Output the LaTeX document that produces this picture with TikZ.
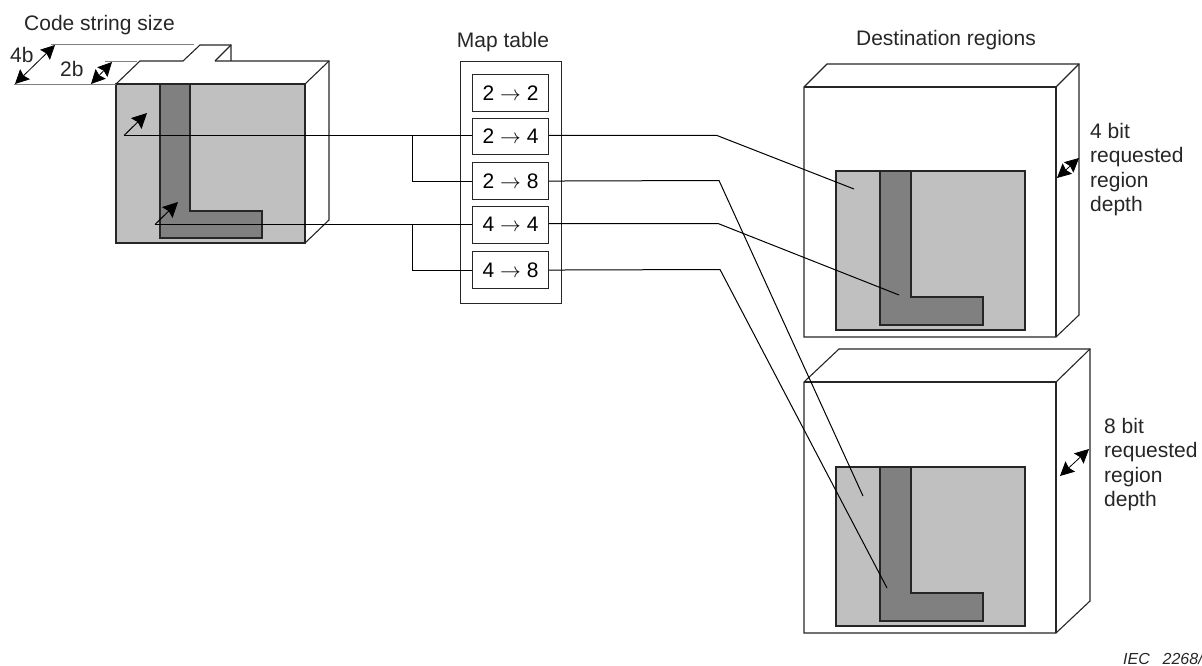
\documentclass[tikz,border=0pt]{standalone}
\usepackage{fontspec}
\setmainfont{Liberation Sans}
\usetikzlibrary{arrows.meta}
\definecolor{inkc}{HTML}{262626}
\definecolor{lightg}{HTML}{C0C0C0}
\definecolor{darkg}{HTML}{808080}
\tikzset{
  ln/.style={draw=inkc,line width=1.1pt,line join=miter},
  link/.style={draw=black,line width=1pt},
  dim/.style={draw=black,line width=0.8pt,{Stealth[length=14pt,width=14pt,inset=2pt]}-{Stealth[length=14pt,width=14pt,inset=2pt]}},
  arr/.style={draw=black,line width=1pt,-{Stealth[length=15pt,width=15pt,inset=2pt]}},
  region/.style={ln,fill=lightg},
  shapeL/.style={ln,fill=darkg},
  mapbox/.style={ln,fill=white,minimum width=76pt,inner sep=0pt,anchor=north west,font=\fontsize{21}{24}\selectfont},
  label/.style={text=inkc,inner sep=0pt,font=\fontsize{21}{24}\selectfont},
  sidelabel/.style={label,align=left,anchor=north west,font=\fontsize{21}{24.4}\selectfont}
}
\begin{document}
\begin{tikzpicture}[x=1pt,y=-1pt]
\useasboundingbox (0,0) rectangle (1202,666);
% left cube
\draw[ln] (116,84) -- (140,61) -- (183,61) -- (200,45) -- (231,45) -- (231,61);
\draw[ln] (215,61) -- (231,45);
\draw[ln] (215,61) -- (329,61) -- (329,220) -- (305,243);
\draw[ln] (305,84) -- (329,61);
\draw[region] (116,84) rectangle (305,243);
\draw[shapeL] (160,84) -- (190,84) -- (190,211) -- (262,211) -- (262,238) -- (160,238) -- cycle;
% dimension guide lines
\draw[line width=1pt,draw=gray] (14,84.5) -- (116,84.5);
\draw[line width=1pt,draw=gray] (51,45) -- (194,45);
\draw[line width=1pt,draw=gray] (105,62) -- (137,62);
\coordinate (d4a) at (15,84); \coordinate (d4b) at (55,45);
\coordinate (d2a) at (91,84); \coordinate (d2b) at (112,62);
\draw[dim] (d4a) -- (d4b);
\draw[dim] (d2a) -- (d2b);
% destination 1
\draw[ln,fill=white] (804,87) -- (827,64) -- (1079,64) -- (1079,315) -- (1056,337) -- (804,337) -- cycle;
\draw[ln] (804,87) -- (1056,87) -- (1056,337);
\draw[ln] (1056,87) -- (1079,64);
\draw[region] (836,171) rectangle (1025,330);
\draw[shapeL] (880,171) -- (911,171) -- (911,297) -- (983,297) -- (983,325) -- (880,325) -- cycle;
% destination 2
\draw[ln,fill=white] (804,382) -- (839,349) -- (1090,349) -- (1090,601) -- (1056,633) -- (804,633) -- cycle;
\draw[ln] (804,382) -- (1056,382) -- (1056,633);
\draw[ln] (1056,382) -- (1090,349);
\draw[region] (836,467) rectangle (1025,626);
\draw[shapeL] (880,467) -- (911,467) -- (911,593) -- (983,593) -- (983,621) -- (880,621) -- cycle;
% depth arrows
\coordinate (e1a) at (1057,178); \coordinate (e1b) at (1079,158);
\coordinate (e2a) at (1060,476); \coordinate (e2b) at (1089,449);
\draw[dim] (e1a) -- (e1b);
\draw[dim] (e2a) -- (e2b);
% map table
\node[ln,minimum width=101pt,minimum height=242pt,inner sep=0pt,anchor=north west] (table) at (460,61) {};
\node[mapbox,minimum height=37pt] (m22) at (472,74) {2 $\rightarrow$ 2\hspace{7pt}};
\node[mapbox,minimum height=36pt] (m24) at (472,118) {2 $\rightarrow$ 4\hspace{7pt}};
\node[mapbox,minimum height=37pt] (m28) at (472,162) {2 $\rightarrow$ 8\hspace{7pt}};
\node[mapbox,minimum height=37pt] (m44) at (472,205.5) {4 $\rightarrow$ 4\hspace{7pt}};
\node[mapbox,minimum height=37pt] (m48) at (472,251) {4 $\rightarrow$ 8\hspace{7pt}};
% source coordinates
\coordinate (s1) at (124,135.5);
\coordinate (s2) at (155,224.5);
\coordinate (s1t) at (147,113);
\coordinate (s2t) at (178,202);
\draw[arr] (s1) -- (s1t);
\draw[arr] (s2) -- (s2t);
% connectors
\coordinate (j1) at (412,135.5);
\coordinate (j2) at (412,224.5);
\draw[link] (s1) -- (m24.west |- s1);
\draw[link] (j1) |- (m28.west);
\draw[link] (s2) -- (m44.west |- s2);
\draw[link] (j2) |- (m48.west);
\coordinate (t24) at (854,189); \coordinate (t28) at (863,496);
\coordinate (t44) at (899,295); \coordinate (t48) at (887,588);
\draw[link] (m24.east |- s1) -- (717,135.5) -- (t24);
\draw[link] (m28.east) -- (719,180.5) -- (t28);
\draw[link] (m44.east |- 0,223.5) -- (718,223.5) -- (t44);
\draw[link] (m48.east) -- (720,269.5) -- (t48);
% labels
\node[label,anchor=base west] (code) at (24,31) {Code string size};
\node[label,anchor=base west] (four) at (10,63) {4b};
\node[label,anchor=base west] (two) at (60,77) {2b};
\node[label,anchor=base] (maplbl) at (503,47.5) {Map table};
\node[label,anchor=base] (destlbl) at (946,46) {Destination regions};
\node[sidelabel] (bit4) at (1090,123) {4 bit\\requested\\region\\depth};
\node[sidelabel] (bit8) at (1104,418) {8 bit\\requested\\region\\depth};
\node[text=inkc,inner sep=0pt,anchor=base west,font=\fontsize{16}{18}\selectfont\itshape] (iec) at (1123,664) {IEC\hspace{0.8em}2268/};
\end{tikzpicture}
\end{document}
